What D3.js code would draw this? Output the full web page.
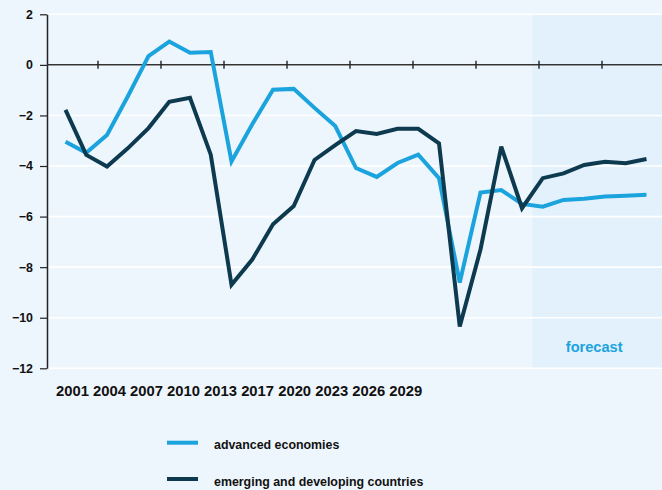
<!DOCTYPE html>
<html>
<head>
<meta charset="utf-8">
<script src="https://cdn.jsdelivr.net/npm/d3@7"></script>
<style>
  html, body { margin: 0; padding: 0; background: #eef6fd; }
  svg { display: block; font-family: "Liberation Sans", Arial, sans-serif; }
</style>
</head>
<body>
<svg id="chart" width="662" height="490"></svg>
<script>
// Fiscal balance, % of GDP
const years = d3.range(2001, 2030);
const advanced = [-3.04, -3.48, -2.77, -1.25, 0.35, 0.92, 0.48, 0.51, -3.82, -2.35,
  -0.98, -0.95, -1.7, -2.42, -4.08, -4.43, -3.88, -3.55, -4.48, -8.61,
  -5.05, -4.95, -5.5, -5.61, -5.34, -5.29, -5.21, -5.18, -5.14];
const emerging = [-1.78, -3.56, -4.02, -3.3, -2.5, -1.46, -1.3, -3.55, -8.7, -7.7,
  -6.3, -5.58, -3.76, -3.17, -2.62, -2.73, -2.53, -2.53, -3.1, -10.35,
  -7.3, -3.23, -5.67, -4.48, -4.29, -3.96, -3.83, -3.89, -3.72];
const tickLabels = ["2001", "2004", "2007", "2010", "2013", "2017", "2020", "2023", "2026", "2029"];
const yTicks = [2, 0, -2, -4, -6, -8, -10, -12];
const forecastStart = 2023.5;
const seriesNames = ["advanced economies", "emerging and developing countries"];
const colors = { light: "#1ba3de", dark: "#0d3a4f" };

const svg = d3.select("#chart");
const plotLeft = 47, plotRight = 662, plotTop = 14.3, plotBottom = 368.3;

const x = d3.scaleLinear().domain([2001, 2029]).range([65.5, 646.5]);
const y = d3.scaleLinear().domain([2, -12]).range([plotTop, plotBottom]);
const tickX = d3.scalePoint().domain(tickLabels).range([98, 665]);

// forecast shading
svg.append("rect")
  .attr("x", x(forecastStart)).attr("y", y(2))
  .attr("width", plotRight - x(forecastStart)).attr("height", y(-12) - y(2))
  .attr("fill", "#e2f1fb");

// horizontal grid
svg.append("g").selectAll("line").data(yTicks).join("line")
  .attr("x1", plotLeft).attr("x2", plotRight)
  .attr("y1", d => y(d)).attr("y2", d => y(d))
  .attr("stroke", "#ffffff").attr("stroke-width", 1.6);

// y axis
const yAxis = svg.append("g").attr("transform", `translate(${plotLeft},0)`)
  .call(d3.axisLeft(y).tickValues(yTicks).tickSize(7).tickSizeOuter(0).tickPadding(7)
    .tickFormat(d => d < 0 ? "\u2212" + Math.abs(d) : d));
yAxis.select(".domain").attr("stroke", "#222").attr("stroke-width", 1.5);
yAxis.selectAll(".tick line").attr("stroke", "#222").attr("stroke-width", 1.2);
yAxis.selectAll("text").attr("font-size", 12.4).attr("font-weight", "bold")
  .attr("fill", "#111").attr("font-family", "Liberation Sans, Arial, sans-serif");

// zero line with cross ticks
svg.append("line").attr("x1", plotLeft).attr("x2", plotRight)
  .attr("y1", y(0)).attr("y2", y(0)).attr("stroke", "#333").attr("stroke-width", 1.5);
svg.append("g").selectAll("line").data(tickLabels).join("line")
  .attr("x1", d => tickX(d)).attr("x2", d => tickX(d))
  .attr("y1", y(0) - 4).attr("y2", y(0) + 4)
  .attr("stroke", "#222").attr("stroke-width", 1.4);

// year labels
svg.append("text")
  .attr("x", 56).attr("y", 395.5)
  .attr("font-size", 14.8).attr("font-weight", "bold").attr("fill", "#111")
  .attr("xml:space", "preserve")
  .text(tickLabels.join(" "));

// forecast label
svg.append("text")
  .attr("x", (x(forecastStart) + plotRight) / 2 - 3).attr("y", 352)
  .attr("text-anchor", "middle")
  .attr("font-size", 14.6).attr("font-weight", "bold").attr("fill", colors.light)
  .text("forecast");

// lines
const line = d3.line().x((d, i) => x(years[i])).y(d => y(d));
svg.append("path").datum(advanced).attr("d", line)
  .attr("fill", "none").attr("stroke", colors.light).attr("stroke-width", 4)
  .attr("stroke-linejoin", "miter").attr("stroke-miterlimit", 3);
svg.append("path").datum(emerging).attr("d", line)
  .attr("fill", "none").attr("stroke", colors.dark).attr("stroke-width", 4)
  .attr("stroke-linejoin", "miter").attr("stroke-miterlimit", 3);

// legend
const legend = svg.append("g");
const items = [
  { name: seriesNames[0], color: colors.light, ly: 442.7, ty: 449 },
  { name: seriesNames[1], color: colors.dark, ly: 479, ty: 486.3 }
];
legend.selectAll("line").data(items).join("line")
  .attr("x1", 167).attr("x2", 198)
  .attr("y1", d => d.ly).attr("y2", d => d.ly)
  .attr("stroke", d => d.color).attr("stroke-width", 4);
legend.selectAll("text").data(items).join("text")
  .attr("x", 214).attr("y", d => d.ty)
  .attr("font-size", 12.4).attr("font-weight", "bold").attr("fill", "#111")
  .text(d => d.name);
</script>
</body>
</html>
